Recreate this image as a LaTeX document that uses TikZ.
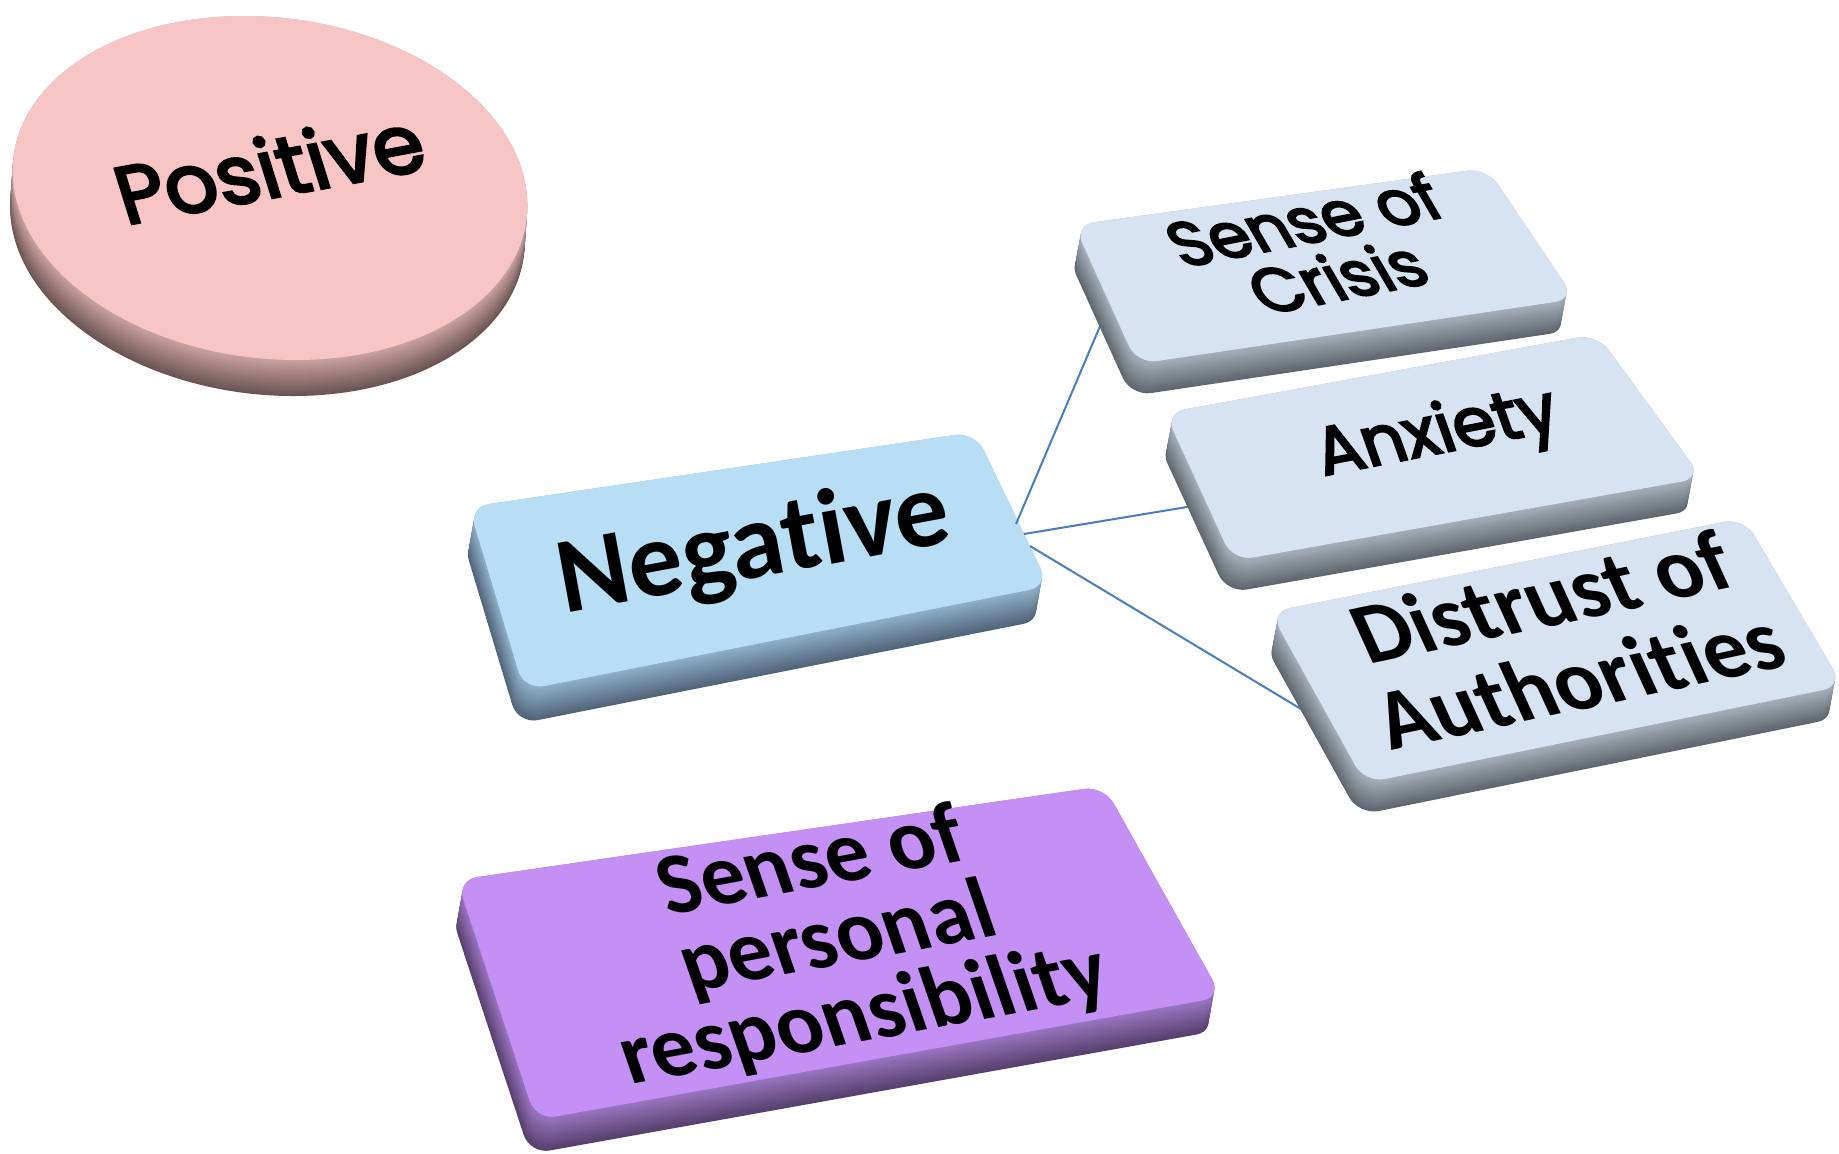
\documentclass[tikz,border=0pt]{standalone}
\usepackage{fontspec}
\newfontfamily\geofont{Poppins}[FakeBold=3.5]
\newfontfamily\calfont{Carlito}[Ligatures=NoCommon]
\definecolor{pinktop}{HTML}{F7C5C6}
\definecolor{pinklight}{HTML}{CDA3A4}
\definecolor{pinkdark}{HTML}{6B5454}
\definecolor{negtop}{HTML}{B8DEF5}
\definecolor{neglight}{HTML}{90B2C8}
\definecolor{negdark}{HTML}{52657A}
\definecolor{chtop}{HTML}{D7E3F0}
\definecolor{chlight}{HTML}{A8B1BB}
\definecolor{chdark}{HTML}{5F666D}
\definecolor{purtop}{HTML}{C490F5}
\definecolor{purlight}{HTML}{9C76C2}
\definecolor{purdark}{HTML}{56416E}
\definecolor{linkcol}{HTML}{4A7EBB}
% #1 TL #2 TR #3 BR #4 BL #5 dx #6 dy #7 top #8 side light #9 side dark
\newcommand{\slabbox}[9]{%
  \foreach \k in {0,...,24}{%
    \pgfmathsetmacro{\ff}{1-\k/24}%
    \pgfmathtruncatemacro{\pp}{100*\k/24}%
    \fill[#8!\pp!#9, rounded corners=10pt, shift={({\ff*(#5)},{\ff*(#6)})}] #1 -- #2 -- #3 -- #4 -- cycle;
  }%
  \fill[#7, rounded corners=10pt] #1 -- #2 -- #3 -- #4 -- cycle;
}
\begin{document}
\begin{tikzpicture}[x=0.5pt, y=-0.5pt,
  link/.style={draw=linkcol, line width=1pt},
  geotxt/.style={text=black, align=center, inner sep=0pt},
  caltxt/.style={text=black, align=center, inner sep=0pt}]
\fill[white] (0,0) rectangle (1839,1153);
\useasboundingbox (0,0) rectangle (1839,1153);

% Positive disc
\begin{scope}[shift={(270,188)}, xslant=-0.15]
  \foreach \k in {0,...,24}{%
    \pgfmathsetmacro{\ff}{1-\k/24}%
    \pgfmathtruncatemacro{\pp}{100*\k/24}%
    \fill[pinklight!\pp!pinkdark] ({-8*\ff},{36*\ff}) ellipse [x radius=256, y radius=172];
  }
  \fill[pinktop] (0,0) ellipse [x radius=256, y radius=172];
\end{scope}
\node[geotxt, rotate=10.5, xslant=-0.12, font=\geofont\fontsize{41}{43}\selectfont] (tpos) at (269,167) {Positive};

% Negative
\slabbox{(469,507)}{(975,432)}{(1049,586)}{(524,690)}{-6}{34}{negtop}{neglight}{negdark}
\node[caltxt, rotate=10.5, font=\calfont\bfseries\fontsize{54}{56}\selectfont] (tneg) at (754,549) {Negative};

% connectors
\coordinate (n1) at (1016,524);
\coordinate (n2) at (1024,534);
\coordinate (n3) at (1030,546);
\coordinate (c1) at (1106,312);
\coordinate (c2) at (1205,504);
\coordinate (c3) at (1316,718);
\draw[link] (n1) -- (c1);
\draw[link] (n2) -- (c2);
\draw[link] (n3) -- (c3);

% Sense of Crisis
\slabbox{(1074,225)}{(1487,168)}{(1575,299)}{(1137,364)}{-6}{32}{chtop}{chlight}{chdark}
\node[geotxt, rotate=11, xslant=-0.35, font=\geofont\fontsize{32}{31}\selectfont] (tcri) at (1320,248) {Sense of\\Crisis};

% Anxiety
\slabbox{(1165,413)}{(1597,334)}{(1702,478)}{(1233,561)}{-6}{32}{chtop}{chlight}{chdark}
\node[geotxt, rotate=11, xslant=-0.15, font=\geofont\fontsize{34}{36}\selectfont] (tanx) at (1438,436) {Anxiety};

% Distrust of Authorities
\slabbox{(1270,612)}{(1744,518)}{(1843,686)}{(1365,783)}{-6}{32}{chtop}{chlight}{chdark}
\node[caltxt, rotate=12, xslant=-0.22, font=\calfont\bfseries\fontsize{44}{44}\selectfont] (tdis) at (1560,638) {Distrust of\\Authorities};

% Sense of personal responsibility
\slabbox{(457,880)}{(1104,786)}{(1222,997)}{(536,1120)}{-6}{34}{purtop}{purlight}{purdark}
\node[caltxt, rotate=10.5, xslant=-0.15, font=\calfont\bfseries\fontsize{44}{40}\selectfont] (tpur) at (838,941) {Sense of\\personal\\responsibility};
\end{tikzpicture}
\end{document}
